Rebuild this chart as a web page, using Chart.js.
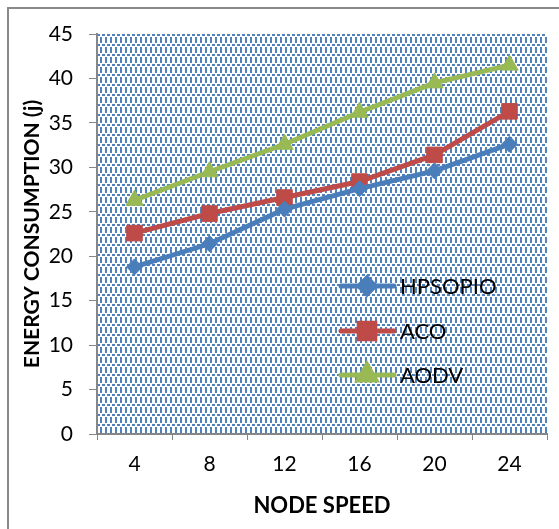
<!DOCTYPE html>
<html>
<head>
<meta charset="utf-8">
<script src="https://cdn.jsdelivr.net/npm/chart.js@4.4.1/dist/chart.umd.min.js"></script>
<style>
  body { margin: 0; background: #fff; }
  #wrap { position: relative; width: 559px; height: 529px; }
  #frame { position: absolute; left: 7px; top: 7px; right: 0; bottom: 0;
           border-top: 2px solid #898989; border-left: 2px solid #898989; }
  canvas { position: absolute; left: 0; top: 0; }
</style>
</head>
<body>
<div id="wrap">
  <div id="frame"></div>
  <canvas id="myChart" width="559" height="529"></canvas>
</div>
<script>
// values
const speeds = ['4', '8', '12', '16', '20', '24'];
const hpsopio = [18.8, 21.4, 25.3, 27.6, 29.6, 32.6];
const aco = [22.6, 24.8, 26.6, 28.4, 31.4, 36.3];
const aodv = [26.3, 29.5, 32.6, 36.2, 39.5, 41.5];
const yMin = 0, yMax = 45, yStep = 5;

const FONT = 'Lato, "Open Sans", sans-serif';

// dotted blue fill of the plot area
function makePattern() {
    const c = document.createElement('canvas');
    c.width = 10; c.height = 10;
    const g = c.getContext('2d');
    g.fillStyle = '#ffffff';
    g.fillRect(0, 0, 10, 10);
    g.fillStyle = '#4f81bd';
    g.fillRect(0, 0, 2, 3);
    g.fillRect(5, 0, 2, 3);
    g.fillRect(2, 4, 3, 2);
    g.fillRect(7, 4, 3, 2);
    g.fillRect(0, 7, 2, 3);
    g.fillRect(5, 7, 2, 3);
    return g.createPattern(c, 'repeat');
}

const plotBg = {
    id: 'plotBg',
    beforeDraw(chart) {
        const {ctx, chartArea: a} = chart;
        ctx.save();
        ctx.fillStyle = makePattern();
        ctx.fillRect(a.left, a.top, a.right - a.left, a.bottom - a.top);
        ctx.restore();
    }
};

// legend drawn inside the plot, like the original
const innerLegend = {
    id: 'innerLegend',
    afterDatasetsDraw(chart) {
        const ctx = chart.ctx;
        const rows = [286, 331, 375];
        ctx.save();
        chart.data.datasets.forEach((ds, i) => {
            const y = rows[i];
            ctx.strokeStyle = ds.borderColor;
            ctx.lineWidth = 5;
            ctx.lineCap = 'round';
            ctx.beginPath();
            ctx.moveTo(341, y);
            ctx.lineTo(394, y);
            ctx.stroke();
            Chart.helpers.drawPoint(ctx, {
                pointStyle: ds.pointStyle,
                radius: ds.pointRadius,
                borderWidth: 1
            }, 367, y);
            ctx.fillStyle = ds.backgroundColor;
            ctx.fill();
            ctx.fillStyle = '#000';
            ctx.font = '22px ' + FONT;
            ctx.textBaseline = 'middle';
            ctx.textAlign = 'left';
            ctx.fillText(ds.label, 400, y + 1);
        });
        ctx.restore();
    }
};

const ctx = document.getElementById('myChart').getContext('2d');
const myChart = new Chart(ctx, {
    type: 'line',
    data: {
        labels: speeds,
        datasets: [{
            label: 'HPSOPIO',
            data: hpsopio,
            borderColor: '#4a7ebb',
            backgroundColor: '#4a7ebb',
            borderWidth: 5,
            pointStyle: 'rectRot',
            pointRadius: 8,
            pointBorderWidth: 1
        }, {
            label: 'ACO',
            data: aco,
            borderColor: '#be4b48',
            backgroundColor: '#be4b48',
            borderWidth: 5,
            pointStyle: 'rect',
            pointRadius: 11,
            pointBorderWidth: 1
        }, {
            label: 'AODV',
            data: aodv,
            borderColor: '#98b954',
            backgroundColor: '#98b954',
            borderWidth: 5,
            pointStyle: 'triangle',
            pointRadius: 10,
            pointBorderWidth: 1
        }]
    },
    options: {
        responsive: false,
        animation: false,
        layout: { padding: { left: 20, right: 5, top: 34, bottom: 10 } },
        plugins: {
            legend: { display: false },
            tooltip: { enabled: false }
        },
        scales: {
            x: {
                offset: true,
                grid: { offset: true, drawOnChartArea: false, color: '#868686', tickLength: 6 },
                border: { color: '#868686', width: 2 },
                ticks: { color: '#000', font: { family: FONT, size: 21 }, padding: 12 },
                title: { display: true, text: 'NODE SPEED', color: '#000',
                         font: { family: FONT, size: 22, weight: 'bold' }, padding: 0 },
                afterFit(s) { s.height = 85; }
            },
            y: {
                min: yMin,
                max: yMax,
                grid: { drawOnChartArea: false, color: '#868686', tickLength: 8 },
                border: { color: '#868686', width: 2 },
                ticks: { stepSize: yStep, color: '#000', font: { family: FONT, size: 21 }, padding: 16 },
                title: { display: true, text: 'ENERGY CONSUMPTION (j)', color: '#000',
                         font: { family: FONT, size: 21, weight: 'bold' }, padding: { top: 0, bottom: 0 } },
                afterFit(s) { s.width = 77; }
            }
        }
    },
    plugins: [plotBg, innerLegend]
});
</script>
</body>
</html>
